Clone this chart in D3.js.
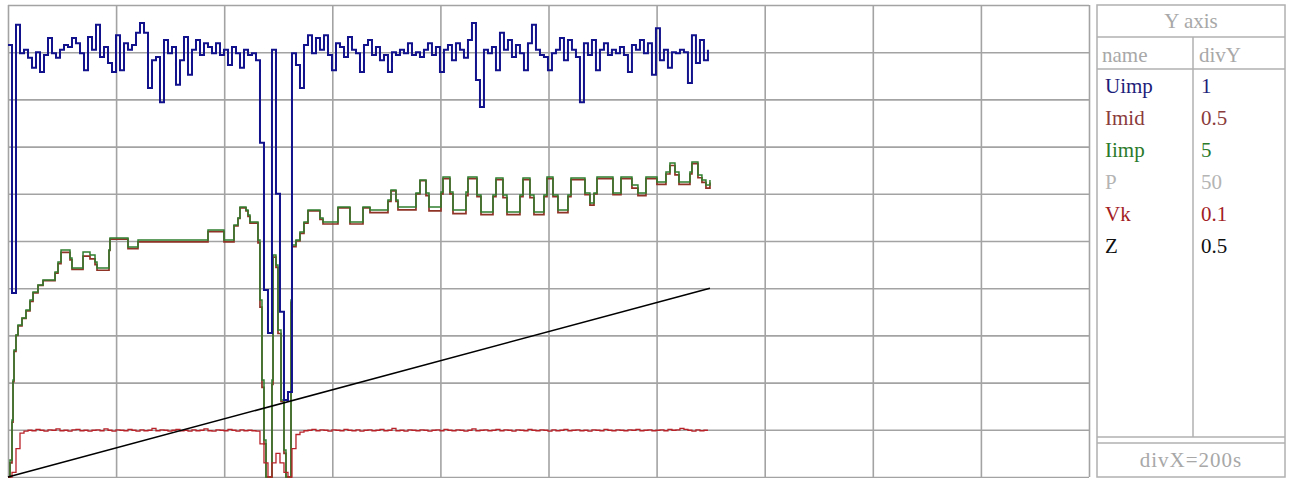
<!DOCTYPE html>
<html lang="en">
<head>
<meta charset="UTF-8">
<title>Trace recorder</title>
<script src="https://d3js.org/d3.v7.min.js"></script>
<style>
  body { margin: 0; background: #fff; }
  .grid line { stroke: #a3a3a3; stroke-width: 1.6; }
  .grid .domain { display: none; }
  .trace { fill: none; }
  .panel line, .panel rect { stroke: #b0b0b0; stroke-width: 1.5; fill: none; }
  .panel text { font-family: "Liberation Serif", "Times New Roman", serif; font-size: 21px; }
</style>
</head>
<body>
<svg width="1291" height="478"></svg>
<script>
// seconds per horizontal division
const divX = 200;

// legend table
const names = ["Uimp", "Imid", "Iimp", "P", "Vk", "Z"];
const divY = [1, 0.5, 5, 50, 0.1, 0.5];

// Uimp and Vk are sampled every 7.4 s
const sampleStep = 7.4;
const uimp = [
  9.15, 3.90, 9.58, 8.98, 9.05, 8.88, 8.67, 9.00, 8.58, 8.94,
  9.30, 8.98, 8.88, 9.05, 9.15, 9.11, 9.30, 9.19, 8.98, 8.62,
  9.32, 9.05, 9.58, 8.90, 9.11, 8.77, 8.58, 9.36, 8.62, 9.19,
  9.05, 9.15, 9.41, 9.62, 9.41, 8.24, 8.83, 8.90, 7.94, 9.26,
  8.98, 9.11, 8.31, 8.83, 9.32, 8.52, 9.05, 9.26, 8.94, 9.19,
  9.11, 8.98, 9.19, 8.94, 9.05, 8.73, 9.11, 8.98, 8.67, 9.05,
  8.94, 8.98, 8.83, 7.08, 3.96, 3.05, 9.05, 6.00, 3.50, 1.63,
  1.80, 8.98, 8.73, 8.24, 9.15, 9.36, 8.98, 9.30, 9.05, 9.36,
  8.94, 8.62, 9.19, 9.11, 8.90, 9.32, 9.05, 8.98, 8.58, 9.15,
  9.26, 8.94, 9.11, 8.83, 8.94, 8.58, 9.00, 8.94, 9.05, 8.98,
  9.19, 8.94, 9.00, 8.90, 9.05, 9.19, 8.94, 9.11, 8.58, 9.05,
  9.15, 8.83, 9.19, 9.05, 8.88, 9.26, 9.62, 8.41, 7.84, 9.05,
  8.98, 9.11, 8.62, 9.41, 9.05, 9.26, 8.90, 9.15, 8.98, 8.62,
  9.19, 9.58, 9.05, 8.94, 8.90, 8.62, 8.98, 9.05, 9.30, 8.83,
  9.26, 9.05, 8.90, 7.94, 9.19, 8.94, 9.26, 8.62, 9.05, 9.19,
  8.94, 9.05, 8.98, 9.11, 8.94, 8.58, 9.15, 9.05, 9.26, 8.98,
  9.19, 8.52, 9.51, 8.83, 9.05, 8.67, 9.00, 8.98, 9.05, 9.00,
  8.35, 9.36, 8.77, 9.26, 8.83, 9.05
];
const vk = [
  0, 0.01, 0.06, 0.093,
  0.097, 0.099, 0.098, 0.101, 0.099, 0.097, 0.100, 0.099, 0.102, 0.098,
  0.099, 0.097, 0.100, 0.101, 0.098, 0.099, 0.097, 0.099, 0.100, 0.098,
  0.102, 0.099, 0.097, 0.100, 0.099, 0.098, 0.101, 0.099, 0.097, 0.100,
  0.098, 0.099, 0.103, 0.098, 0.100, 0.099, 0.097, 0.099, 0.101, 0.098,
  0.099, 0.097, 0.100, 0.098, 0.099, 0.102, 0.098, 0.097, 0.100, 0.099,
  0.098, 0.101, 0.099, 0.097, 0.100, 0.098, 0.099, 0.098,
  0.097, 0.07, 0.03, 0, 0.03, 0.05, 0.03, 0.01, 0, 0.06, 0.09,
  0.095, 0.098, 0.099, 0.101, 0.098, 0.100, 0.099, 0.097, 0.100, 0.099,
  0.098, 0.101, 0.099, 0.098, 0.100, 0.097, 0.099, 0.100, 0.098, 0.099,
  0.101, 0.098, 0.099, 0.103, 0.098, 0.099, 0.097, 0.100, 0.099, 0.098,
  0.100, 0.099, 0.097, 0.099, 0.100, 0.098, 0.101, 0.099, 0.098, 0.100,
  0.099, 0.097, 0.099, 0.102, 0.098, 0.099, 0.100, 0.098, 0.099, 0.101,
  0.098, 0.100, 0.099, 0.097, 0.100, 0.099, 0.098, 0.101, 0.099, 0.098,
  0.100, 0.099, 0.097, 0.100, 0.098, 0.099, 0.101, 0.098, 0.099, 0.100,
  0.098, 0.099, 0.097, 0.100, 0.099, 0.098, 0.101, 0.099, 0.098, 0.100,
  0.099, 0.098, 0.100, 0.099, 0.101, 0.098, 0.099, 0.100, 0.098, 0.099,
  0.100, 0.098, 0.101, 0.099, 0.100, 0.103, 0.101, 0.099, 0.097, 0.100,
  0.098, 0.099, 0.099
];

// Iimp / Imid change only at these times (s)
const iTimes = [
  0, 3.7, 7.4, 9.3, 11.1, 14.8, 18.5, 25.9, 33.3, 40.7,
  46.3, 55.5, 64.8, 87.0, 92.5, 98.1, 114.7, 118.4, 138.8, 151.7,
  161.0, 164.7, 186.9, 188.7, 222.0, 240.5, 370.0, 399.6, 418.1, 425.5,
  429.2, 440.3, 444.0, 447.7, 462.5, 466.2, 469.9, 473.6, 477.3, 488.4,
  490.3, 495.8, 499.5, 505.1, 510.6, 514.3, 523.6, 525.4, 532.8, 540.2,
  547.6, 555.0, 577.2, 582.8, 610.5, 632.7, 656.8, 669.7, 703.0, 708.6,
  717.8, 721.5, 754.8, 762.2, 773.3, 778.9, 801.1, 804.8, 817.7, 823.3,
  847.3, 851.0, 867.7, 875.1, 897.3, 902.8, 915.8, 923.2, 947.2, 952.8,
  965.7, 973.1, 991.6, 997.2, 1008.3, 1017.5, 1036.0, 1041.6, 1067.5, 1076.7,
  1084.2, 1089.7, 1119.3, 1134.1, 1154.4, 1165.5, 1180.3, 1200.7, 1217.3, 1224.7,
  1234.0, 1241.4, 1261.7, 1265.4, 1276.5, 1283.9, 1291.3, 1298.7
];
const iimp = [
  0, 1.80, 6.04, 10.28, 13.46, 15.04, 16.10, 16.84, 17.69, 18.75,
  19.60, 20.34, 20.87, 21.72, 22.78, 24.05, 23.20, 22.14, 23.83, 23.52,
  22.78, 22.14, 24.05, 25.32, 24.36, 25.11, 26.16, 25.11, 26.69, 27.44,
  28.60, 28.28, 27.75, 27.01, 25.11, 18.75, 10.28, 3.92, 0, 10.28,
  23.52, 22.46, 15.57, 8.16, 2.86, 0, 18.75, 24.58, 25.11, 25.95,
  27.01, 28.28, 27.44, 27.01, 28.60, 27.01, 28.60, 28.28, 29.34, 30.40,
  29.34, 28.60, 30.08, 31.46, 30.08, 28.60, 30.19, 31.78, 30.19, 28.28,
  30.19, 31.78, 29.87, 28.07, 29.87, 31.67, 29.87, 28.07, 29.87, 31.67,
  29.87, 28.07, 29.87, 31.78, 29.87, 28.28, 29.87, 31.67, 30.08, 29.02,
  30.08, 31.78, 30.08, 31.78, 30.93, 30.08, 31.78, 31.25, 32.31, 33.26,
  32.31, 31.25, 32.31, 33.37, 31.99, 31.46, 30.93, 31.46
];
const imid = [
  0, 0.15, 0.58, 1.01, 1.33, 1.50, 1.60, 1.68, 1.76, 1.86,
  1.95, 2.03, 2.08, 2.16, 2.26, 2.38, 2.30, 2.20, 2.34, 2.31,
  2.25, 2.19, 2.40, 2.52, 2.42, 2.49, 2.60, 2.49, 2.66, 2.74,
  2.85, 2.82, 2.76, 2.69, 2.48, 1.80, 0.95, 0.35, 0, 0.98,
  2.33, 2.22, 1.52, 0.80, 0.25, 0, 1.85, 2.44, 2.50, 2.58,
  2.69, 2.82, 2.73, 2.68, 2.85, 2.68, 2.85, 2.80, 2.92, 3.03,
  2.92, 2.83, 3.00, 3.14, 2.98, 2.82, 3.00, 3.16, 3.00, 2.79,
  2.98, 3.16, 2.97, 2.78, 2.97, 3.15, 2.96, 2.78, 2.97, 3.15,
  2.96, 2.78, 2.97, 3.16, 2.97, 2.80, 2.97, 3.15, 2.99, 2.88,
  3.00, 3.16, 2.99, 3.16, 3.06, 2.98, 3.16, 3.10, 3.21, 3.30,
  3.20, 3.10, 3.21, 3.32, 3.17, 3.12, 3.06, 3.12
];

// Z ramps linearly
const zTimes = [0, 1298.7];
const z = [0, 2.0];

const colors = {
  Uimp: "#12128c", Imid: "#8e3326", Iimp: "#2f7f2f", P: "#b4b4b4", Vk: "#b8232a", Z: "#000000"
};
const textColors = {
  Uimp: "#1d1d7a", Imid: "#8a3b3b", Iimp: "#2b7a2b", P: "#b4b4b4", Vk: "#a31d24", Z: "#111111"
};

const svg = d3.select("svg");
const plotL = 8, plotR = 1089, plotT = 5, plotB = 477;

const x = d3.scaleLinear().domain([0, divX * 10]).range([plotL, plotR]);
const divScale = d3.scaleLinear().domain([0, 10]).range([plotB, plotT]);
const yFor = name => d3.scaleLinear()
  .domain([0, 10 * divY[names.indexOf(name)]])
  .range([plotB, plotT]);

// grid from the axes
svg.append("g")
  .attr("class", "grid")
  .attr("transform", `translate(0,${plotB})`)
  .call(d3.axisBottom(x).tickValues(d3.range(0, divX * 10 + 1, divX)).tickSize(-(plotB - plotT)).tickFormat(""));
svg.append("g")
  .attr("class", "grid")
  .attr("transform", `translate(${plotL},0)`)
  .call(d3.axisLeft(divScale).tickValues(d3.range(0, 11)).tickSize(-(plotR - plotL)).tickFormat(""));

// traces
function drawSampled(values, name, width) {
  const y = yFor(name);
  svg.append("path")
    .attr("class", "trace")
    .attr("d", d3.line().x((d, i) => x(i * sampleStep)).y(d => y(d)).curve(d3.curveStepAfter)(values))
    .attr("stroke", colors[name])
    .attr("stroke-width", width);
}
function drawTimed(times, values, name, width, curve) {
  const y = yFor(name);
  svg.append("path")
    .attr("class", "trace")
    .attr("d", d3.line().x((d, i) => x(times[i])).y(d => y(d)).curve(curve)(values))
    .attr("stroke", colors[name])
    .attr("stroke-width", width);
}

drawTimed(iTimes, imid, "Imid", 1.7, d3.curveStepAfter);
drawTimed(iTimes, iimp, "Iimp", 1.5, d3.curveStepAfter);
drawSampled(vk, "Vk", 1.3);
drawTimed(zTimes, z, "Z", 1.6, d3.curveLinear);
drawSampled(uimp, "Uimp", 2);

// Y axis table on the right
const panel = svg.append("g").attr("class", "panel");
const pL = 1097, pR = 1285, pMid = 1193;
panel.append("rect").attr("x", pL).attr("y", plotT).attr("width", pR - pL).attr("height", plotB - plotT);
panel.append("line").attr("x1", pL).attr("x2", pR).attr("y1", 37).attr("y2", 37);
panel.append("line").attr("x1", pL).attr("x2", pR).attr("y1", 69).attr("y2", 69);
panel.append("line").attr("x1", pL).attr("x2", pR).attr("y1", 437).attr("y2", 437);
panel.append("line").attr("x1", pL).attr("x2", pR).attr("y1", 443).attr("y2", 443);
panel.append("line").attr("x1", pMid).attr("x2", pMid).attr("y1", 37).attr("y2", 437);

panel.append("text").attr("x", (pL + pR) / 2).attr("y", 28).attr("text-anchor", "middle")
  .attr("fill", "#a8a8a8").text("Y axis");
panel.append("text").attr("x", pL + 5).attr("y", 62).attr("fill", "#a8a8a8").text("name");
panel.append("text").attr("x", pMid + 6).attr("y", 62).attr("fill", "#a8a8a8").text("divY");

const rows = panel.selectAll("g.row").data(names).join("g").attr("class", "row")
  .attr("transform", (d, i) => `translate(0,${93 + i * 32})`);
rows.append("text").attr("x", pL + 8).attr("fill", d => textColors[d]).text(d => d);
rows.append("text").attr("x", pMid + 8).attr("fill", d => textColors[d]).text((d, i) => divY[i]);

panel.append("text").attr("x", (pL + pR) / 2).attr("y", 467).attr("text-anchor", "middle")
  .attr("fill", "#a8a8a8").attr("letter-spacing", 1).text(`divX=${divX}s`);
</script>
</body>
</html>
